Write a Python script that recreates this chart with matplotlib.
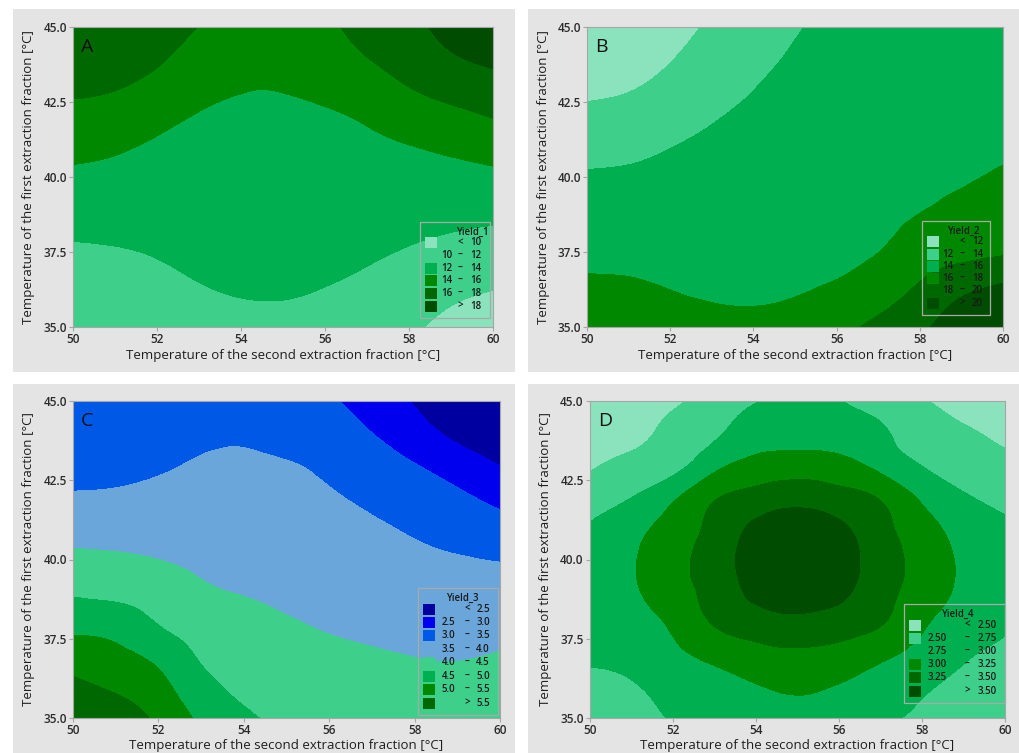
import matplotlib
matplotlib.use("Agg")
import matplotlib.pyplot as plt
import matplotlib.tri as mtri
import numpy as np
from matplotlib.patches import Rectangle

plt.rcParams['font.family'] = ['Open Sans', 'DejaVu Sans']

W, H = 1019, 753

# grid
temp_second = [50, 51, 52, 53, 54, 55, 56, 57, 58, 59, 60]
temp_first = [35, 36, 37, 38, 39, 40, 41, 42, 43, 44, 45]

# one list per temp_second column, values from 35 to 45 degC of temp_first
yield_1 = [
    [10.5, 11.1, 11.55, 12.1, 12.88, 13.65, 14.53, 15.5, 16.3, 16.95, 17.6],
    [10.5, 11.05, 11.6, 12.19, 12.85, 13.5, 14.23, 15.19, 16.1, 16.7, 17.2],
    [11.0, 11.43, 11.87, 12.35, 12.82, 13.3, 13.77, 14.49, 15.43, 16.25, 16.7],
    [11.5, 11.83, 12.18, 12.53, 12.87, 13.22, 13.56, 13.91, 14.53, 15.24, 15.95],
    [11.72, 12.01, 12.31, 12.6, 12.89, 13.18, 13.47, 13.77, 14.08, 14.5, 14.9],
    [11.74, 12.03, 12.32, 12.6, 12.89, 13.18, 13.47, 13.76, 14.07, 14.5, 14.95],
    [11.55, 11.89, 12.22, 12.55, 12.87, 13.2, 13.53, 13.85, 14.4, 15.15, 15.65],
    [11.1, 11.55, 11.99, 12.41, 12.83, 13.25, 13.67, 14.2, 15.1, 16.0, 16.6],
    [10.35, 10.95, 11.55, 12.18, 12.76, 13.35, 13.94, 14.95, 16.0, 16.9, 17.55],
    [9.43, 10.24, 11.06, 11.88, 12.66, 13.44, 14.33, 15.52, 16.68, 17.83, 18.5],
    [8.87, 9.79, 10.71, 11.63, 12.6, 13.6, 14.77, 16.05, 17.25, 18.46, 19.4],
]
yield_2 = [
    [16.9, 16.4, 15.88, 15.31, 14.74, 14.18, 13.37, 12.45, 11.6, 10.8, 10.0],
    [16.85, 16.36, 15.83, 15.31, 14.78, 14.26, 13.56, 12.71, 11.85, 11.1, 10.4],
    [16.7, 16.11, 15.69, 15.26, 14.83, 14.41, 13.97, 13.27, 12.56, 11.86, 11.2],
    [16.35, 15.93, 15.6, 15.27, 14.93, 14.6, 14.27, 13.89, 13.36, 12.83, 12.3],
    [16.2, 15.91, 15.63, 15.36, 15.08, 14.8, 14.53, 14.25, 13.96, 13.58, 13.2],
    [16.35, 16.0, 15.77, 15.53, 15.3, 15.07, 14.84, 14.6, 14.37, 14.14, 13.9],
    [17.3, 16.35, 15.85, 15.7, 15.5, 15.29, 15.08, 14.87, 14.67, 14.46, 14.25],
    [18.5, 17.3, 16.35, 15.75, 15.6, 15.45, 15.3, 15.1, 14.9, 14.7, 14.5],
    [19.6, 18.55, 17.5, 16.6, 15.9, 15.75, 15.6, 15.4, 15.2, 14.95, 14.75],
    [21.2, 20.0, 18.2, 17.1, 16.3, 15.9, 15.75, 15.55, 15.4, 15.2, 15.0],
    [22.3, 21.1, 18.7, 17.3, 16.7, 16.15, 15.85, 15.7, 15.55, 15.38, 15.2],
]
yield_3 = [
    [6.0, 5.62, 5.24, 4.84, 4.43, 4.1, 3.81, 3.53, 3.38, 3.24, 3.1],
    [5.77, 5.42, 5.1, 4.79, 4.35, 4.06, 3.8, 3.55, 3.39, 3.26, 3.12],
    [5.4, 5.15, 4.85, 4.48, 4.24, 4.0, 3.81, 3.62, 3.44, 3.3, 3.15],
    [4.9, 4.66, 4.44, 4.25, 4.06, 3.92, 3.79, 3.67, 3.54, 3.4, 3.25],
    [4.56, 4.41, 4.27, 4.12, 3.98, 3.88, 3.77, 3.66, 3.56, 3.44, 3.3],
    [4.42, 4.29, 4.16, 4.03, 3.92, 3.82, 3.72, 3.62, 3.52, 3.35, 3.2],
    [4.3, 4.2, 4.08, 3.96, 3.86, 3.75, 3.65, 3.54, 3.4, 3.22, 3.05],
    [4.25, 4.14, 4.03, 3.91, 3.79, 3.67, 3.56, 3.39, 3.19, 3.0, 2.8],
    [4.22, 4.11, 3.99, 3.86, 3.73, 3.59, 3.44, 3.23, 3.01, 2.73, 2.45],
    [4.22, 4.11, 3.97, 3.83, 3.68, 3.53, 3.31, 3.07, 2.77, 2.35, 1.95],
    [4.3, 4.18, 4.02, 3.84, 3.67, 3.48, 3.18, 2.86, 2.48, 2.1, 1.7],
]
yield_4 = [
    [2.62, 2.7, 2.78, 2.85, 2.89, 2.87, 2.77, 2.64, 2.47, 2.38, 2.3],
    [2.66, 2.73, 2.83, 2.91, 2.97, 2.98, 2.92, 2.74, 2.56, 2.43, 2.33],
    [2.77, 2.85, 2.95, 3.04, 3.14, 3.16, 3.1, 2.95, 2.66, 2.57, 2.45],
    [2.85, 2.93, 3.06, 3.27, 3.35, 3.38, 3.33, 3.22, 2.92, 2.71, 2.62],
    [2.9, 2.99, 3.16, 3.39, 3.55, 3.59, 3.54, 3.34, 3.07, 2.88, 2.74],
    [2.93, 3.03, 3.2, 3.44, 3.59, 3.63, 3.58, 3.41, 3.1, 2.92, 2.82],
    [2.9, 2.99, 3.16, 3.39, 3.55, 3.59, 3.54, 3.34, 3.07, 2.89, 2.76],
    [2.8, 2.91, 3.05, 3.27, 3.35, 3.38, 3.33, 3.22, 2.92, 2.79, 2.62],
    [2.7, 2.79, 2.92, 3.04, 3.14, 3.16, 3.1, 2.95, 2.74, 2.62, 2.52],
    [2.6, 2.69, 2.78, 2.88, 2.95, 2.96, 2.9, 2.77, 2.63, 2.53, 2.4],
    [2.55, 2.62, 2.7, 2.78, 2.83, 2.84, 2.8, 2.67, 2.56, 2.44, 2.32],
]

bounds_1 = [10, 12, 14, 16, 18]
bounds_2 = [12, 14, 16, 18, 20]
bounds_3 = [2.5, 3.0, 3.5, 4.0, 4.5, 5.0, 5.5]
bounds_4 = [2.50, 2.75, 3.00, 3.25, 3.50]

greens = ['#8ae3bc', '#3ecf8b', '#00b050', '#008800', '#006800', '#004c00']
blue_green = ['#0000a0', '#0000ee', '#0058e6', '#6aa6da',
              '#3ecf8b', '#00b050', '#008800', '#006800']


def fpx(x, y):
    return x / W, 1 - y / H


def draw_key(fig, box, cols, title, bounds, fmt, colors):
    left, top, width, height = box
    c_low, c_dash, c_up, c_title = cols
    fig.patches.append(Rectangle(fpx(left, top + height), width / W, height / H,
                                 transform=fig.transFigure, fill=False,
                                 edgecolor='#a9a9a9', lw=0.9, zorder=2))
    fig.text(*fpx(left + c_title, top + 10), title, ha='center', va='center',
             fontsize=7, fontweight='semibold', color='#1a1a1a')
    n = len(colors)
    step = (height - 33) / (n - 1)
    kw = dict(va='center', fontsize=7, fontweight='semibold', color='#1a1a1a')
    for i in range(n):
        yy = top + 21 + i * step
        fig.patches.append(Rectangle(fpx(left + 5, yy + 5.5), 12 / W, 11 / H,
                                     transform=fig.transFigure, zorder=2,
                                     facecolor=colors[i], edgecolor='none'))
        if i == 0:
            fig.text(*fpx(left + c_dash, yy), '<', ha='center', **kw)
            fig.text(*fpx(left + c_up, yy), fmt % bounds[0], ha='right', **kw)
        elif i == n - 1:
            fig.text(*fpx(left + c_dash, yy), '>', ha='center', **kw)
            fig.text(*fpx(left + c_up, yy), fmt % bounds[-1], ha='right', **kw)
        else:
            fig.text(*fpx(left + c_low, yy), fmt % bounds[i - 1], ha='right', **kw)
            fig.text(*fpx(left + c_dash, yy), '\u2013', ha='center', **kw)
            fig.text(*fpx(left + c_up, yy), fmt % bounds[i], ha='right', **kw)


fig = plt.figure(figsize=(W / 100, H / 100), dpi=100)

panels = [
    # gray frame, axes box, letter, data, bounds, fmt, colors, title, key box, key columns
    ((13, 9, 515, 372), (73, 27, 493, 327), 'A', yield_1, bounds_1, '%d', greens,
     'Yield_1', (420, 222, 70, 96), (32, 40, 61, 52)),
    ((528, 9, 1019, 372), (587, 27, 1003, 327), 'B', yield_2, bounds_2, '%d', greens,
     'Yield_2', (922, 221, 68, 94), (31, 40, 61, 41)),
    ((13, 384, 515, 753), (73, 401, 500, 718), 'C', yield_3, bounds_3, '%.1f', blue_green,
     'Yield_3', (418, 588, 80, 127), (37, 49, 72, 44)),
    ((528, 384, 1019, 753), (590, 401, 1005, 718), 'D', yield_4, bounds_4, '%.2f', greens,
     'Yield_4', (904, 604, 101, 99), (43, 63, 93, 53)),
]

X, Y = np.meshgrid(temp_second, temp_first)
tri = mtri.Triangulation(X.ravel(), Y.ravel())
refiner = mtri.UniformTriRefiner(tri)

for frame, axbox, letter, data, bounds, fmt, colors, title, kbox, kcols in panels:
    fx0, fy0, fx1, fy1 = frame
    fig.patches.append(Rectangle(fpx(fx0, fy1), (fx1 - fx0) / W, (fy1 - fy0) / H,
                                 transform=fig.transFigure, facecolor='#e4e4e4',
                                 edgecolor='none', zorder=-5))
    x0, y0, x1, y1 = axbox
    ax = fig.add_axes([x0 / W, 1 - y1 / H, (x1 - x0) / W, (y1 - y0) / H])
    Z = np.array(data).T
    levels = [0] + bounds + [100]
    # smooth the surface with matplotlib's own cubic triangle refinement
    tri_f, z_f = refiner.refine_field(Z.ravel(), subdiv=3)
    ax.tricontourf(tri_f, z_f, levels=levels, colors=colors)
    ax.set_xlim(50, 60)
    ax.set_ylim(35, 45)
    ax.set_xticks([50, 52, 54, 56, 58, 60])
    ax.set_yticks([35.0, 37.5, 40.0, 42.5, 45.0])
    ax.set_yticklabels(['35.0', '37.5', '40.0', '42.5', '45.0'])
    for s in ax.spines.values():
        s.set_color('#a6a6a6')
        s.set_linewidth(0.8)
    ax.tick_params(length=3, width=0.8, color='#a6a6a6', pad=1.5,
                   labelsize=8.5, labelcolor='#2b2b2b')
    for lab in ax.get_xticklabels() + ax.get_yticklabels():
        lab.set_fontweight('semibold')
    ax.set_xlabel('Temperature of the second extraction fraction [\u00b0C]',
                  fontsize=9.5, color='#1e1e1e')
    ax.set_ylabel('Temperature of the first extraction fraction [\u00b0C]',
                  fontsize=9.5, color='#1e1e1e')
    ax.xaxis.label.set_va('center')
    ax.yaxis.label.set_va('center')
    ax.xaxis.set_label_coords(0.5, -28 / (y1 - y0))
    ax.yaxis.set_label_coords(-44 / (x1 - x0), 0.5)
    ax.text(8 / (x1 - x0), 1 - 20 / (y1 - y0), letter, transform=ax.transAxes,
            fontsize=14, ha='left', va='center', color='#111111')
    draw_key(fig, kbox, kcols, title, bounds, fmt, colors)

fig.savefig('out.png', dpi=100, facecolor='white')
